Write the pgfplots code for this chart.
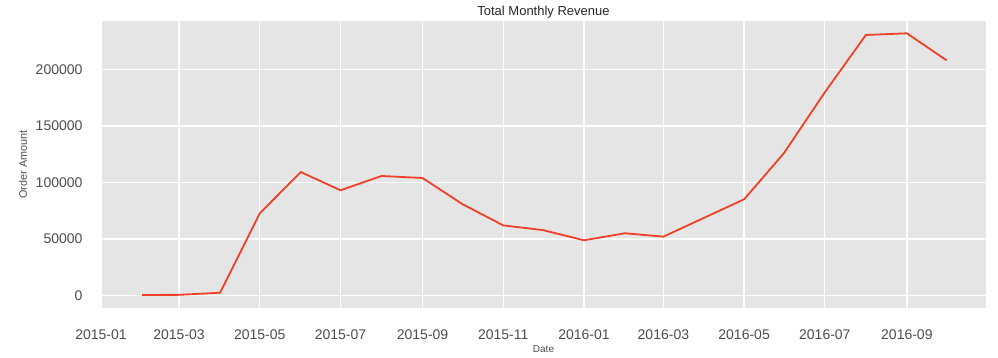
\documentclass[border=0pt]{standalone}
\usepackage{pgfplots}
\pgfplotsset{compat=1.18}
\usepackage{fontspec}
\setmainfont{Liberation Sans}
\definecolor{linered}{RGB}{240,64,40}
\definecolor{bggray}{RGB}{229,229,229}
\definecolor{ticktext}{RGB}{77,77,77}
\begin{document}
\begin{tikzpicture}[x=1pt,y=1pt]
\begin{axis}[
  at={(0pt,0pt)}, anchor=south west,
  scale only axis,
  width=885pt, height=287pt,
  xmin=0, xmax=668.8,
  ymin=-11260, ymax=243200,
  axis background/.style={fill=bggray},
  axis line style={draw=none},
  major tick length=0pt,
  grid=major,
  major grid style={white, line width=1.3pt},
  xtick={0,59,120,181,243,304,365,425,486,547,609},
  xticklabels={2015-01,2015-03,2015-05,2015-07,2015-09,2015-11,2016-01,2016-03,2016-05,2016-07,2016-09},
  ytick={0,50000,100000,150000,200000},
  yticklabel style={/pgf/number format/fixed, /pgf/number format/1000 sep={}, font=\fontsize{14}{16}\selectfont, text=ticktext, xshift=-15pt},
  xticklabel style={font=\fontsize{14}{16}\selectfont, text=ticktext, yshift=-18pt},
  /pgf/number format/assume math mode=true,
  scaled y ticks=false,
  title={Total Monthly Revenue},
  title style={font=\fontsize{13}{15}\selectfont, text=black!85, yshift=-7pt},
  xlabel={Date},
  xlabel style={font=\fontsize{10}{12}\selectfont, text=ticktext, yshift=1pt},
  ylabel={Order Amount},
  ylabel style={font=\fontsize{10.8}{12}\selectfont, text=ticktext, yshift=2pt},
  clip=false,
]
\addplot[linered, line width=1.8pt, no markers] coordinates {
(31,300) (59,400) (90,2300) (120,72700) (151,109300) (181,93100)
(212,105800) (243,104000) (273,80900) (304,62000) (334,57800)
(365,48800) (396,55000) (425,52000) (455,68300) (486,85100)
(516,125900) (547,180000) (578,230800) (609,232300) (639,208300)
};
\end{axis}
\path[use as bounding box] (-101pt,-50pt) rectangle (897pt,308pt);
\end{tikzpicture}
\end{document}
